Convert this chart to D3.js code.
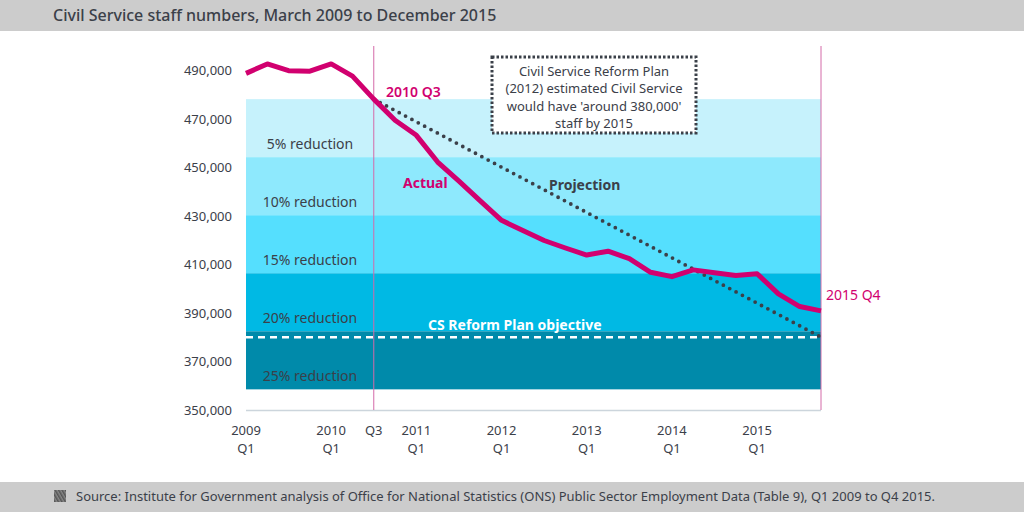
<!DOCTYPE html>
<html>
<head>
<meta charset="utf-8">
<script src="https://cdn.jsdelivr.net/npm/d3@7"></script>
<style>
  body { margin: 0; background: #fff; }
  svg { display: block; font-family: "Noto Sans", "Open Sans", sans-serif; }
</style>
</head>
<body>
<svg id="chart" width="1024" height="512"></svg>
<script>
// quarters Q1 2009 .. Q4 2015
const quarters = d3.range(28);
const staff = [488600, 492500, 489700, 489500, 492500, 487500, 478000, 469300,
               463100, 452100, 444200, 436100, 428100, 423900, 419800, 416700,
               413800, 415400, 412300, 406700, 404900, 407700, 406500, 405400,
               406100, 397800, 392600, 390800];
const yTicks = [350000, 370000, 390000, 410000, 430000, 450000, 470000, 490000];
const xTicks = [0, 4, 6, 8, 12, 16, 20, 24];
const xTickLabels = ['2009|Q1', '2010|Q1', 'Q3', '2011|Q1', '2012|Q1', '2013|Q1', '2014|Q1', '2015|Q1'];
const reductions = [0.05, 0.10, 0.15, 0.20, 0.25];
const bandColors = ['#c6f2fc', '#8ee9fd', '#55dffe', '#00b9e4', '#008aaa'];
const baseIndex = 6;          // 2010 Q3
const objective = 380000;
const boxLines = ['Civil Service Reform Plan', '(2012) estimated Civil Service',
                  "would have 'around 380,000'", 'staff by 2015'];

const svg = d3.select('#chart');
const dark = '#3b4049';
const pink = '#d1006f';

const x = d3.scaleLinear().domain([0, 27]).range([246, 821]);
const y = d3.scaleLinear().domain([350000, 490000]).range([410, 70]);

//title and footer bars
svg.append('rect').attr('width', 1024).attr('height', 31).attr('fill', '#cccccc');
svg.append('text').attr('x', 53).attr('y', 21).attr('fill', dark)
    .style('font-size', '16px').style('font-weight', 500)
    .text('Civil Service staff numbers, March 2009 to December 2015');

svg.append('rect').attr('y', 482).attr('width', 1024).attr('height', 30).attr('fill', '#cccccc');
const pat = svg.append('defs').append('pattern').attr('id', 'hatch')
    .attr('width', 3).attr('height', 3).attr('patternUnits', 'userSpaceOnUse')
    .attr('patternTransform', 'rotate(-30)');
pat.append('rect').attr('width', 3).attr('height', 3).attr('fill', '#888');
pat.append('rect').attr('width', 1.5).attr('height', 3).attr('fill', '#555');
svg.append('rect').attr('x', 54).attr('y', 490).attr('width', 12).attr('height', 12).attr('fill', 'url(#hatch)');
svg.append('text').attr('x', 76).attr('y', 501).attr('fill', dark)
    .style('font-size', '13px')
    .attr('textLength', 859).attr('lengthAdjust', 'spacingAndGlyphs')
    .text('Source: Institute for Government analysis of Office for National Statistics (ONS) Public Sector Employment Data (Table 9), Q1 2009 to Q4 2015.');

//reduction bands
const base = staff[baseIndex];
svg.append('g').selectAll('rect')
    .data(reductions)
    .enter().append('rect')
    .attr('x', x(0))
    .attr('width', x(27) - x(0))
    .attr('y', d => y(base * (1 - d + 0.05)))
    .attr('height', d => y(base * (1 - d)) - y(base * (1 - d + 0.05)))
    .attr('fill', (d, i) => bandColors[i]);

//labels sit near the bottom of each band
svg.append('g').selectAll('text')
    .data(reductions)
    .enter().append('text')
    .attr('x', 310)
    .attr('y', d => y(base * (1 - d)) - 8)
    .attr('text-anchor', 'middle')
    .attr('fill', dark)
    .style('font-size', '14px')
    .text(d => Math.round(d * 100) + '% reduction');

//axis line
svg.append('line').attr('x1', x(0)).attr('x2', x(27))
    .attr('y1', y(350000) + 0.5).attr('y2', y(350000) + 0.5)
    .attr('stroke', '#ccd5dc').attr('stroke-width', 1.5);

//vertical markers
[baseIndex, 27].forEach(i => {
    svg.append('line').attr('x1', x(i)).attr('x2', x(i))
        .attr('y1', 46).attr('y2', 410)
        .attr('stroke', '#d46aa8').attr('stroke-width', 1);
});

//objective line
svg.append('line').attr('x1', x(0)).attr('x2', x(27))
    .attr('y1', y(objective)).attr('y2', y(objective))
    .attr('stroke', '#fff').attr('stroke-width', 2.5).attr('stroke-dasharray', '7,5');
svg.append('text').attr('x', 428).attr('y', 330).attr('fill', '#fff')
    .style('font-size', '14px').style('font-weight', 'bold').text('CS Reform Plan objective');

//projection
svg.append('line')
    .attr('x1', x(baseIndex)).attr('y1', y(base))
    .attr('x2', x(27)).attr('y2', y(objective))
    .attr('stroke', dark).attr('stroke-width', 3.8)
    .attr('stroke-linecap', 'round').attr('stroke-dasharray', '0,7.2');

//actual line
const line = d3.line().x((d, i) => x(i)).y(d => y(d));
svg.append('path').datum(staff)
    .attr('d', line)
    .attr('fill', 'none')
    .attr('stroke', pink)
    .attr('stroke-width', 5)
    .attr('stroke-linejoin', 'round');

//y axis labels
svg.append('g').selectAll('text')
    .data(yTicks)
    .enter().append('text')
    .attr('x', 232).attr('y', d => y(d) + 5)
    .attr('text-anchor', 'end').attr('fill', dark)
    .style('font-size', '13px')
    .text(d => d3.format(',')(d));

//x axis labels
const xg = svg.append('g').selectAll('text')
    .data(xTicks)
    .enter().append('text')
    .attr('x', d => x(d)).attr('y', 435)
    .attr('text-anchor', 'middle').attr('fill', dark)
    .style('font-size', '13px');
xg.each(function (d, i) {
    const parts = xTickLabels[i].split('|');
    parts.forEach((p, j) => {
        d3.select(this).append('tspan').attr('x', x(d)).attr('dy', j ? 18 : 0).text(p);
    });
});

//annotations
svg.append('text').attr('x', 386).attr('y', 97).attr('fill', pink)
    .style('font-size', '14px').style('font-weight', 600).text('2010 Q3');
svg.append('text').attr('x', 403).attr('y', 188).attr('fill', pink)
    .style('font-size', '14px').style('font-weight', 'bold').text('Actual');
svg.append('text').attr('x', 549).attr('y', 190).attr('fill', dark)
    .style('font-size', '14px').style('font-weight', 'bold').text('Projection');
svg.append('text').attr('x', 826).attr('y', 300).attr('fill', pink)
    .style('font-size', '14px').text('2015 Q4');

//dotted box
svg.append('rect').attr('x', 492).attr('y', 57).attr('width', 204).attr('height', 76)
    .attr('fill', '#fff').attr('stroke', dark).attr('stroke-width', 3)
    .attr('stroke-dasharray', '2.5,2');
svg.append('g').selectAll('text')
    .data(boxLines)
    .enter().append('text')
    .attr('x', 594).attr('y', (d, i) => 76 + i * 17.3)
    .attr('text-anchor', 'middle').attr('fill', dark)
    .style('font-size', '13px')
    .text(d => d);
</script>
</body>
</html>
